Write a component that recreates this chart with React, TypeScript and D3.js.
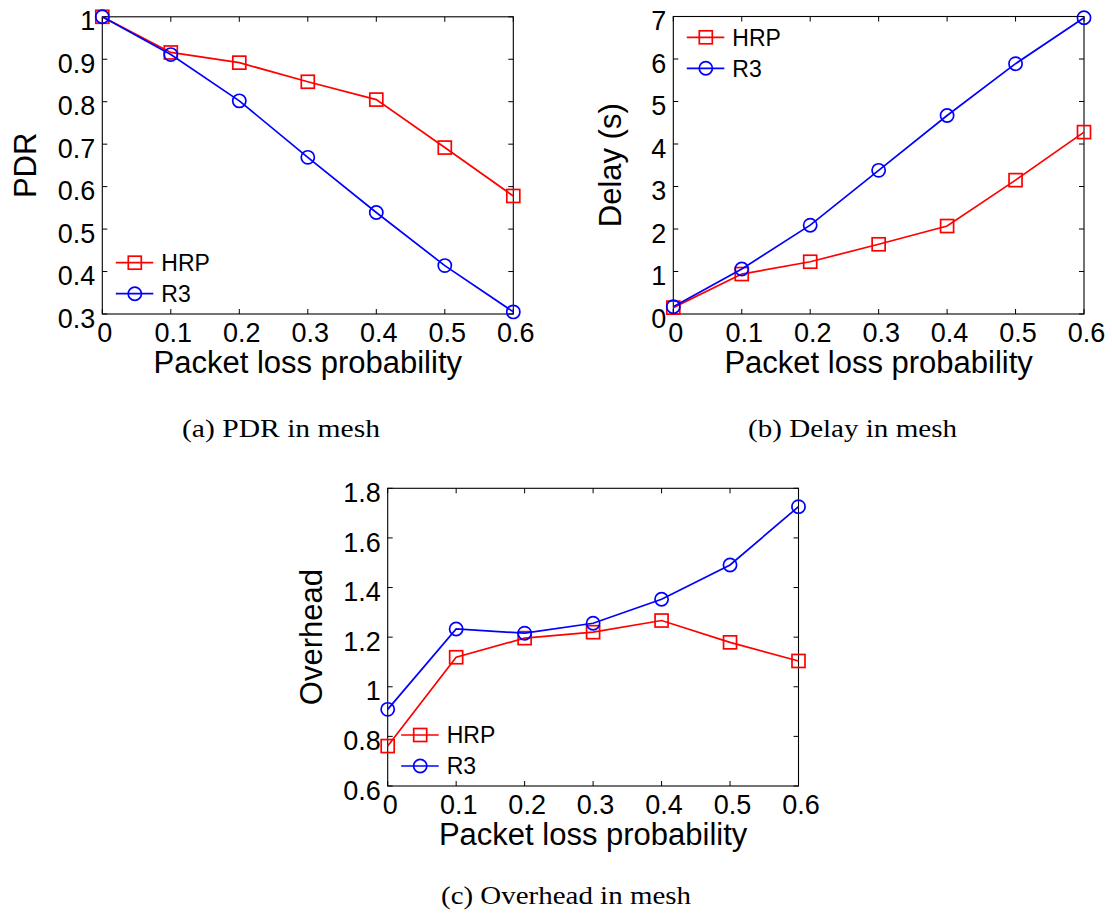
import React, { useEffect } from "react";
import * as d3 from "d3";

// Packet loss probabilities on the x axis (shared by all three panels)
const lossProb = [0, 0.1, 0.2, 0.3, 0.4, 0.5, 0.6];
const xTicks = [0, 0.1, 0.2, 0.3, 0.4, 0.5, 0.6];

// (a) Packet delivery ratio
const pdrHRP = [1.0, 0.916, 0.892, 0.847, 0.805, 0.692, 0.578];
const pdrR3 = [1.0, 0.911, 0.802, 0.669, 0.539, 0.414, 0.305];
const pdrTicks = [0.3, 0.4, 0.5, 0.6, 0.7, 0.8, 0.9, 1];

// (b) Delay in seconds
const delayHRP = [0.15, 0.94, 1.23, 1.64, 2.07, 3.15, 4.28];
const delayR3 = [0.17, 1.06, 2.09, 3.38, 4.67, 5.89, 6.97];
const delayTicks = [0, 1, 2, 3, 4, 5, 6, 7];

// (c) Overhead
const overheadHRP = [0.761, 1.119, 1.196, 1.22, 1.267, 1.179, 1.104];
const overheadR3 = [0.909, 1.233, 1.216, 1.256, 1.353, 1.491, 1.726];
const overheadTicks = [0.6, 0.8, 1, 1.2, 1.4, 1.6, 1.8];

const seriesNames = ["HRP", "R3"];
const RED = "#ff0000";
const BLUE = "#0000ff";
const SANS = "'Liberation Sans', Arial, Helvetica, sans-serif";
const SERIF = "'Liberation Serif', 'Times New Roman', serif";

type PanelProps = {
  left: number;
  right: number;
  top: number;
  bottom: number;
  yDomain: [number, number];
  yTicks: number[];
  hrp: number[];
  r3: number[];
  yLabel: string;
  yLabelX: number;
  legendY: number;
};

function Marker({ kind, x, y, color }: { kind: string; x: number; y: number; color: string }) {
  if (kind === "square") {
    const s = 13;
    return (
      <rect x={x - s / 2} y={y - s / 2} width={s} height={s} fill="none" stroke={color} strokeWidth={1.7} />
    );
  }
  return <circle cx={x} cy={y} r={6.6} fill="none" stroke={color} strokeWidth={1.7} />;
}

function Panel(p: PanelProps) {
  const x = d3.scaleLinear().domain([0, 0.6]).range([p.left, p.right]);
  const y = d3.scaleLinear().domain(p.yDomain).range([p.bottom, p.top]);
  const line = d3
    .line<number>()
    .x((_, i) => x(lossProb[i]))
    .y((d) => y(d));
  const fmt = (v: number) => String(+v.toFixed(2));
  const tickLen = 5;
  const series = [
    { name: seriesNames[0], data: p.hrp, color: RED, kind: "square" },
    { name: seriesNames[1], data: p.r3, color: BLUE, kind: "circle" },
  ];
  const midY = (p.top + p.bottom) / 2;
  return (
    <g>
      {/* ticks on all four sides, pointing inward */}
      {p.yTicks.map((t) => (
        <g key={"y" + t}>
          <line x1={p.left} x2={p.left + tickLen} y1={y(t)} y2={y(t)} stroke="#000" />
          <line x1={p.right} x2={p.right - tickLen} y1={y(t)} y2={y(t)} stroke="#000" />
          <text
            x={p.left - 7}
            y={y(t) + 13.6}
            textAnchor="end"
            fontFamily={SANS}
            fontSize={27}
            fill="#000"
          >
            {fmt(t)}
          </text>
        </g>
      ))}
      {xTicks.map((t) => (
        <g key={"x" + t}>
          <line x1={x(t)} x2={x(t)} y1={p.bottom} y2={p.bottom - tickLen} stroke="#000" />
          <line x1={x(t)} x2={x(t)} y1={p.top} y2={p.top + tickLen} stroke="#000" />
          <text
            x={x(t) + 2.5}
            y={p.bottom + 27.5}
            textAnchor="middle"
            fontFamily={SANS}
            fontSize={27}
            fill="#000"
          >
            {fmt(t)}
          </text>
        </g>
      ))}
      <rect
        x={p.left}
        y={p.top}
        width={p.right - p.left}
        height={p.bottom - p.top}
        fill="none"
        stroke="#000"
        strokeWidth={1.1}
      />
      {series.map((s) => (
        <g key={s.name}>
          <path d={line(s.data) || ""} fill="none" stroke={s.color} strokeWidth={1.7} />
          {s.data.map((v, i) => (
            <Marker key={i} kind={s.kind} x={x(lossProb[i])} y={y(v)} color={s.color} />
          ))}
        </g>
      ))}
      {/* legend */}
      {series.map((s, i) => {
        const ly = p.legendY + i * 31;
        return (
          <g key={"lg" + s.name}>
            <line x1={p.left + 13.5} x2={p.left + 51} y1={ly} y2={ly} stroke={s.color} strokeWidth={1.7} />
            <Marker kind={s.kind} x={p.left + 32.5} y={ly} color={s.color} />
            <text x={p.left + 59} y={ly + 8.3} fontFamily={SANS} fontSize={23} fill="#000">
              {s.name}
            </text>
          </g>
        );
      })}
      <text
        x={(p.left + p.right) / 2}
        y={p.bottom + 59}
        textAnchor="middle"
        fontFamily={SANS}
        fontSize={31}
        fill="#000"
      >
        Packet loss probability
      </text>
      <text
        transform={`translate(${p.yLabelX},${midY}) rotate(-90)`}
        textAnchor="middle"
        fontFamily={SANS}
        fontSize={31}
        fill="#000"
      >
        {p.yLabel}
      </text>
    </g>
  );
}

export default function App() {
  useEffect(() => {
    document.body.style.margin = "0";
  }, []);
  return (
    <svg width={1112} height={915} style={{ display: "block", background: "#fff" }}>
      <rect width={1112} height={915} fill="#fff" />
      <Panel
        left={102.3}
        right={513.3}
        top={16.8}
        bottom={314}
        yDomain={[0.3, 1]}
        yTicks={pdrTicks}
        hrp={pdrHRP}
        r3={pdrR3}
        yLabel="PDR"
        yLabelX={36}
        legendY={262.7}
      />
      <Panel
        left={673.3}
        right={1084}
        top={16.5}
        bottom={314}
        yDomain={[0, 7]}
        yTicks={delayTicks}
        hrp={delayHRP}
        r3={delayR3}
        yLabel="Delay (s)"
        yLabelX={620.5}
        legendY={37.3}
      />
      <Panel
        left={387.7}
        right={798.5}
        top={488.3}
        bottom={786}
        yDomain={[0.6, 1.8]}
        yTicks={overheadTicks}
        hrp={overheadHRP}
        r3={overheadR3}
        yLabel="Overhead"
        yLabelX={322}
        legendY={735}
      />
      <text x={281} y={437} textAnchor="middle" fontFamily={SERIF} fontSize={26} textLength={198} lengthAdjust="spacingAndGlyphs">
        (a) PDR in mesh
      </text>
      <text x={852.5} y={437} textAnchor="middle" fontFamily={SERIF} fontSize={26} textLength={209} lengthAdjust="spacingAndGlyphs">
        (b) Delay in mesh
      </text>
      <text x={566} y={904} textAnchor="middle" fontFamily={SERIF} fontSize={26} textLength={250} lengthAdjust="spacingAndGlyphs">
        (c) Overhead in mesh
      </text>
    </svg>
  );
}
